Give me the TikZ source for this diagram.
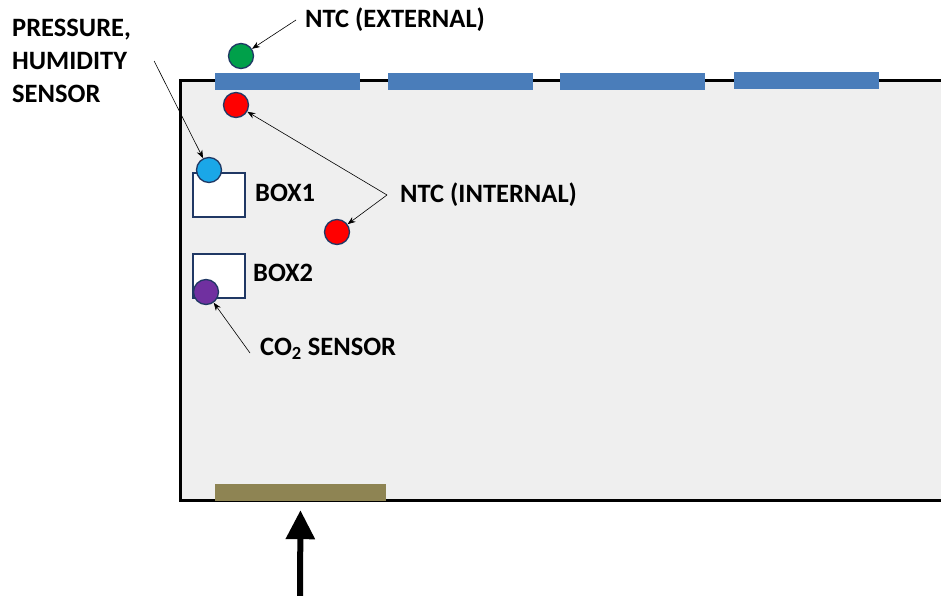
\documentclass[tikz,border=0pt]{standalone}
\usepackage{fontspec}
\setmainfont{Carlito}
\usetikzlibrary{arrows.meta}
\definecolor{panelgray}{HTML}{EFEFEF}
\definecolor{ventblue}{HTML}{4A7DBA}
\definecolor{inletbrown}{HTML}{8E8453}
\definecolor{rimnavy}{HTML}{203864}
\definecolor{ntcgreen}{HTML}{00A04A}
\definecolor{ntcred}{HTML}{FF0000}
\definecolor{phblue}{HTML}{1AA7E8}
\definecolor{co2purple}{HTML}{7030A0}
\begin{document}
\begin{tikzpicture}[x=1pt, y=-1pt,
  vent/.style={fill=ventblue, minimum width=145pt, minimum height=17pt, inner sep=0pt},
  sensor/.style={circle, draw=rimnavy, line width=1.3pt, minimum size=25pt, inner sep=0pt},
  boxframe/.style={draw=rimnavy, fill=white, line width=1.5pt, minimum width=52pt,
                   minimum height=44pt, inner sep=0pt, anchor=north west},
  lbl/.style={font=\bfseries\fontsize{26.5}{33}\selectfont, inner sep=0pt, anchor=west},
  arrow/.style={-{Stealth[length=8pt,width=6pt]}, line width=0.6pt}
]
  \useasboundingbox (0,0) rectangle (941,596);
  \clip (0,0) rectangle (941,596);
  \fill[white] (0,0) rectangle (941,596);

  % chamber (right side runs off the picture)
  \fill[panelgray] (180,81) rectangle (960,500);
  \draw[line width=3pt] (960,81) -- (180,81) -- (180,500) -- (960,500);
  \node[vent] (vent1) at (287.5,82) {};
  \node[vent] (vent2) at (460,82) {};
  \node[vent] (vent3) at (632,82) {};
  \node[vent] (vent4) at (806.5,81) {};
  \node[fill=inletbrown, minimum width=171pt, minimum height=17pt, inner sep=0pt]
    (inlet) at (300.5,492.5) {};

  \node[boxframe] (box1) at (192,172) {};
  \node[boxframe] (box2) at (192,253) {};

  % sensors
  \node[sensor, fill=ntcgreen] (ntcout) at (241,56) {};
  \node[sensor, fill=ntcred] (ntcin1) at (236,105) {};
  \node[sensor, fill=ntcred] (ntcin2) at (337,232) {};
  \node[sensor, fill=phblue] (prhum) at (209,170) {};
  \node[sensor, fill=co2purple] (co2) at (206,292) {};

  % labels
  \node[lbl] (ntcoutlbl) at (305,20) {NTC (EXTERNAL)};
  \node[lbl] (ntcinlbl) at (400,195) {NTC (INTERNAL)};
  \node[lbl] (box1lbl) at (255,193) {BOX1};
  \node[lbl] (box2lbl) at (253,273) {BOX2};
  \node[lbl] (co2lbl) at (260,349) {CO\textsubscript{2} SENSOR};
  \node[lbl, align=left, anchor=north west] (prhumlbl) at (12,19)
    {PRESSURE,\\HUMIDITY\\SENSOR};

  \draw[arrow] ([xshift=-9pt]ntcoutlbl.west) -- (ntcout);
  \draw[arrow] ([xshift=-13pt]ntcinlbl.west) -- (ntcin1);
  \draw[arrow] ([xshift=-13pt]ntcinlbl.west) -- (ntcin2);
  \draw[arrow] ([xshift=23pt]prhumlbl.east) -- (prhum);
  \draw[arrow] ([shift={(-10pt,-4pt)}]co2lbl.west) -- (co2);

  \coordinate (airin) at (300,600);
  \draw[line width=6pt, -{Triangle[length=29pt,width=28pt]}, shorten >=9pt]
    (airin) -- (inlet.south);
\end{tikzpicture}
\end{document}
